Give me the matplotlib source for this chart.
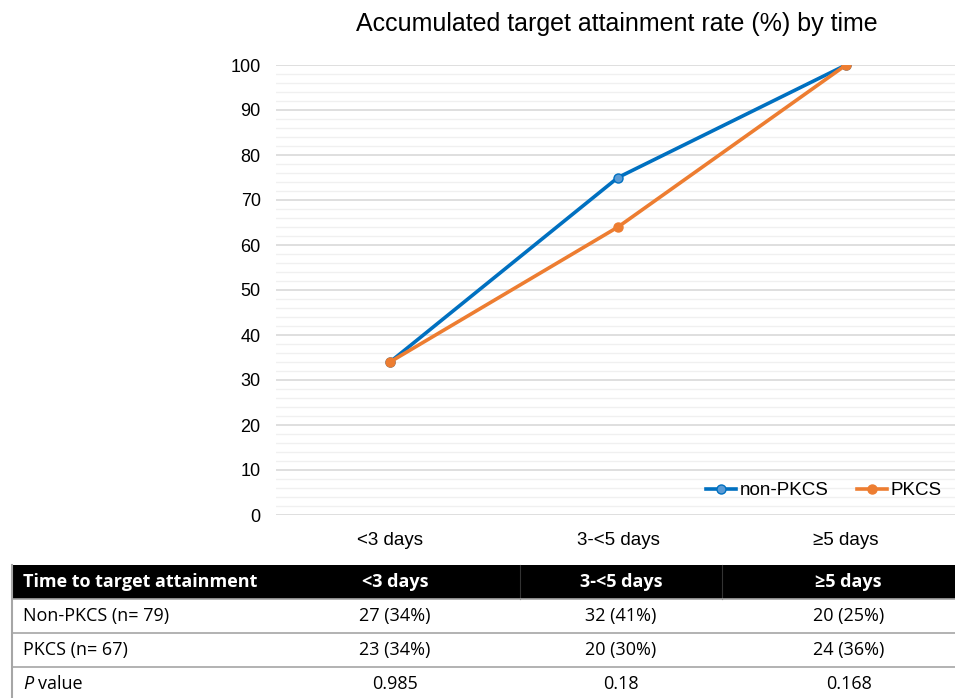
import matplotlib
matplotlib.use("Agg")
import matplotlib.pyplot as plt
from matplotlib.patches import Rectangle
import numpy as np

# chart data
categories = ['<3 days', '3-<5 days', '≥5 days']
non_pkcs = [34, 75, 100]
pkcs = [34, 64, 100]

# table data
header = ['Time to target attainment', '<3 days', '3-<5 days', '≥5 days']
row_labels = ['Non-PKCS (n= 79)', 'PKCS (n= 67)', 'value']
row_values = [['27 (34%)', '32 (41%)', '20 (25%)'],
              ['23 (34%)', '20 (30%)', '24 (36%)'],
              ['0.985', '0.18', '0.168']]

W, H = 955, 698
fig = plt.figure(figsize=(W / 100, H / 100), dpi=100)

# ---- line chart (Excel-like) ----
ax = fig.add_axes([276 / W, 1 - 515 / H, (W - 276) / W, 450 / H])
x = np.arange(len(categories))
ax.plot(x, non_pkcs, color='#0070C0', lw=2.6, marker='o', ms=6.5,
        mfc='#5B9BD5', mec='#0070C0', mew=1, label='non-PKCS', zorder=3)
ax.plot(x, pkcs, color='#ED7D31', lw=2.6, marker='o', ms=6.5,
        mfc='#ED7D31', mec='#ED7D31', label='PKCS', zorder=3)

ax.set_xlim(-0.5, 2.478)
ax.set_ylim(0, 100)
ax.set_yticks(np.arange(0, 101, 10))
ax.set_yticks(np.arange(0, 101, 2), minor=True)
ax.grid(axis='y', which='major', color='#D9D9D9', lw=1.2)
ax.grid(axis='y', which='minor', color='#F0F0F0', lw=1.0)
ax.set_axisbelow(True)
for s in ax.spines.values():
    s.set_visible(False)
ax.tick_params(axis='both', which='both', length=0)
ax.tick_params(axis='y', pad=11, labelsize=13)
ax.tick_params(axis='x', pad=12, labelsize=13.5)
ax.set_xticks(x)
ax.set_xticklabels(categories)
for lab in ax.get_xticklabels() + ax.get_yticklabels():
    lab.set_family('Liberation Sans')

fig.text(617 / W, 1 - 24 / H, 'Accumulated target attainment rate (%) by time',
         ha='center', va='center', fontsize=18, family='Liberation Sans')

leg = ax.legend(loc='lower right', ncol=2, frameon=False, bbox_to_anchor=(1.005, -0.003),
                prop={'family': 'Liberation Sans', 'size': 13.5}, handlelength=1.6,
                handletextpad=0.2, columnspacing=1.5)

# ---- table below ----
tx = fig.add_axes([0, 0, 1, 1])
tx.set_xlim(0, W)
tx.set_ylim(H, 0)
tx.axis('off')
tx.patch.set_visible(False)

col_edges = [12, 270, 520, 722, 975]
row_edges = [565, 599, 633, 667, 701]
tfont = ['Open Sans', 'DejaVu Sans']
fs = 13

tx.add_patch(Rectangle((col_edges[0], row_edges[0]), W - col_edges[0],
                       row_edges[1] - row_edges[0], color='black', lw=0))
for c in col_edges[2:4]:
    tx.plot([c, c], [row_edges[0], row_edges[1]], color='#333333', lw=0.8)
for r in row_edges[1:4]:
    tx.plot([col_edges[0], W], [r, r], color='#A6A6A6', lw=1.2)
tx.plot([col_edges[0], col_edges[0]], [row_edges[0], H], color='#A6A6A6', lw=1.5)

yc = (row_edges[0] + row_edges[1]) / 2
tx.text(col_edges[0] + 11, yc, header[0], color='white', fontweight='bold',
        fontsize=fs, va='center', ha='left', family=tfont)
for j in range(3):
    xc = (col_edges[j + 1] + col_edges[j + 2]) / 2
    tx.text(xc, yc, header[j + 1], color='white', fontweight='bold',
            fontsize=fs, va='center', ha='center', family=tfont)

for i in range(3):
    yc = (row_edges[i + 1] + min(row_edges[i + 2], H + 3)) / 2
    if i == 2:
        tx.text(col_edges[0] + 11, yc, 'P', style='italic', fontsize=fs,
                va='center', ha='left', family=tfont)
        tx.text(col_edges[0] + 26, yc, row_labels[i], fontsize=fs,
                va='center', ha='left', family=tfont)
    else:
        tx.text(col_edges[0] + 11, yc, row_labels[i], fontsize=fs,
                va='center', ha='left', family=tfont)
    for j in range(3):
        xc = (col_edges[j + 1] + col_edges[j + 2]) / 2
        tx.text(xc, yc, row_values[i][j], fontsize=fs, va='center',
                ha='center', family=tfont)

fig.savefig('out.png', dpi=100)
